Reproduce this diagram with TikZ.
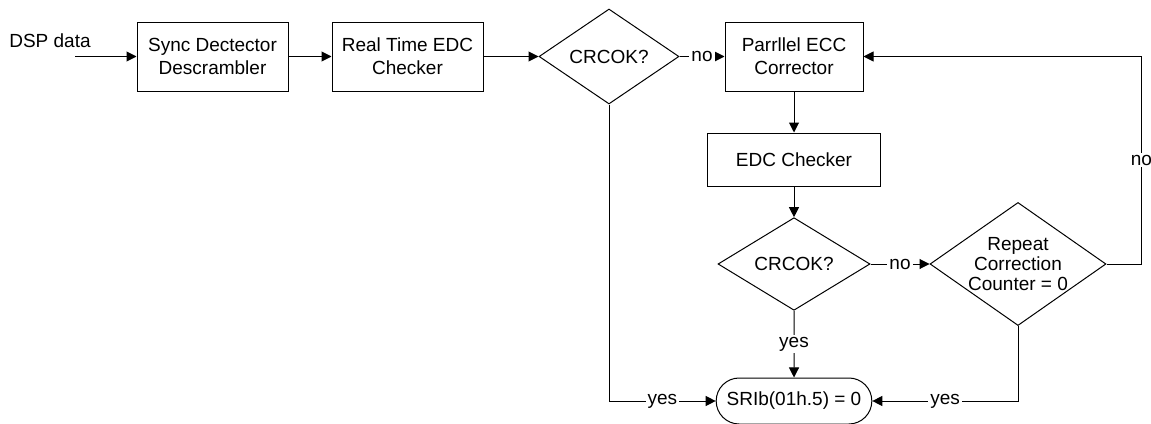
\documentclass[tikz,border=0pt]{standalone}
\usepackage{fontspec}
\setmainfont{Liberation Sans}
\usetikzlibrary{arrows.meta, positioning, shapes.geometric, shapes.misc}

\begin{document}
\begin{tikzpicture}[-,node distance=50pt,on grid,line width=0.5pt,
                    >={Triangle[length=5pt,width=5pt]},
                    font=\fontsize{9.5}{11.5}\selectfont,
                    block node/.style={rectangle,draw,align=center,minimum height=34.5pt},
                    check node/.style={diamond,draw,align=center,inner sep=0pt},
                    end node/.style={rounded rectangle,draw,minimum width=84.5pt,minimum height=23pt},
                    tag/.style={fill=white,inner sep=1pt}]

  \useasboundingbox (0,0) rectangle (575.5pt,-211.5pt);

  \node[block node,minimum width=75.5pt] (1) at (106.25pt,-28.25pt) {Sync Dectector\\Descrambler};
  \node[block node,minimum width=75.5pt] (2) [right=97.5pt of 1] {Real Time EDC\\Checker};
  \node[check node,minimum width=70pt,minimum height=47.5pt] (3) [right=100.75pt of 2] {CRCOK?};
  \node[block node,minimum width=69pt] (4) [right=92.5pt of 3] {Parrllel ECC\\Corrector};
  \node[block node,minimum width=86.5pt,minimum height=26.5pt] (5) [below=51.5pt of 4] {EDC Checker};
  \node[check node,minimum width=76pt,minimum height=43pt] (6) [below=52.25pt of 5] {CRCOK?};
  \node[check node,minimum width=86pt,minimum height=60pt,shape aspect=1.43,
        font=\fontsize{9.5}{10}\selectfont] (7) [right=112pt of 6] {Repeat\\Correction\\Counter = 0};
  \node[end node] (8) [below=68.5pt of 6] {SRIb(01h.5) = 0};

  \node (0) [above left=7.75pt and 81.25pt of 1] {DSP data};
  \coordinate[left=68.75pt of 1] (in);
  \coordinate[right=17.5pt of 7.east] (turn);

  \path[->]
    (in) edge (1)
    (1) edge (2)
    (2) edge (3)
    (3) edge node[tag] {no} (4)
    (4) edge (5)
    (5) edge (6)
    (6) edge node[tag] {no} (7)
    (6) edge node[tag] {yes} (8)
    ;

  \draw[->] (3.south) |- node[tag,pos=0.75] {yes} (8.west);
  \draw[->] (7.south) |- node[tag,pos=0.75] {yes} (8.east);
  \draw[->] (7.east) -- (turn) |- node[tag,pos=0.25] {no} (4.east);
\end{tikzpicture}
\end{document}
